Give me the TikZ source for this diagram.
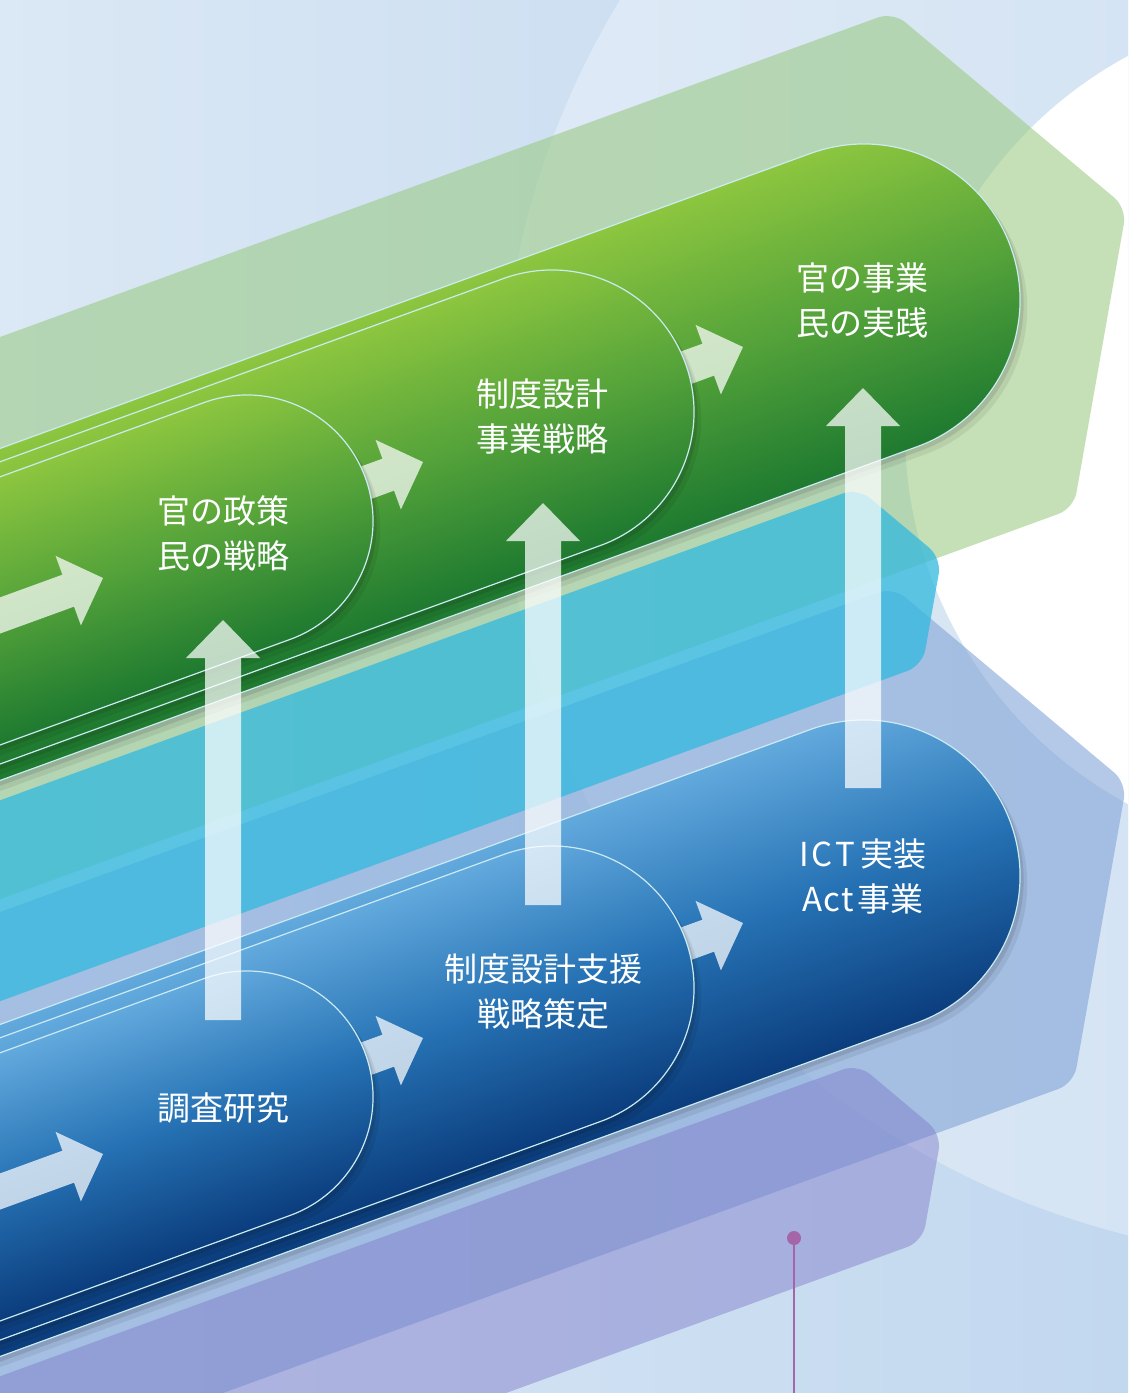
\documentclass[tikz,border=0pt]{standalone}
\usepackage{fontspec}
\newfontfamily\cjk{Noto Sans CJK JP}
\definecolor{bgL}{HTML}{DBE8F5}
\definecolor{bgR}{HTML}{C2D8EF}
\definecolor{pgtop}{HTML}{8DC63F}
\definecolor{pgmid}{HTML}{55A33A}
\definecolor{pgbot}{HTML}{1E7A30}
\definecolor{pbtop}{HTML}{62A9DD}
\definecolor{pbmid}{HTML}{2672B4}
\definecolor{pbbot}{HTML}{0B3D7D}
\definecolor{bandgreen}{RGB}{150,200,125}
\definecolor{bandcyan}{RGB}{50,185,222}
\definecolor{bandlav}{RGB}{130,165,215}
\definecolor{bandpur}{RGB}{125,120,200}
\definecolor{pinc}{HTML}{A466A9}
\definecolor{pilledge}{HTML}{CBEAF2}
\tikzset{
  txt/.style={text=white, font=\cjk\fontsize{33}{45}\selectfont, align=center, inner sep=0pt},
  harr/.style={fill=white, fill opacity=0.72},
  varr/.style={fill=white, fill opacity=0.72},
  pedge/.style={draw=pilledge, line width=1.2pt},
}
\newcommand\capsule[3]{(#1-1800,#2+#3) -- (#1,#2+#3) arc[start angle=90,end angle=-90,radius=#3] -- (#1-1800,#2-#3) -- cycle}
\newcommand\pill[6]{%
\begin{scope}[transform canvas={rotate around={20:(#1,#2)}}]
\fill[black,opacity=0.07,xshift=4pt,yshift=-10pt] \capsule{#1}{#2}{#3};
\fill[black,opacity=0.10,xshift=2pt,yshift=-5pt] \capsule{#1}{#2}{#3};
\shade[top color=#4,bottom color=#6,middle color=#5] \capsule{#1}{#2}{#3};
\draw[pedge] \capsule{#1}{#2}{#3};
\end{scope}}
\newcommand\harrow[3]{%
\begin{scope}[shift={(#1,#2)},rotate=20]
\fill[harr] (0,0) -- (-37,37) -- (-37,17) -- (-#3,17) -- (-#3,-17) -- (-37,-17) -- (-37,-37) -- cycle;
\end{scope}}
\newcommand\varrow[3]{%
\fill[varr] (#1,#2) -- (#1+37,#2-38) -- (#1+18,#2-38) -- (#1+18,#3) -- (#1-18,#3) -- (#1-18,#2-38) -- (#1-37,#2-38) -- cycle;}
\newcommand\band[5]{%
\begin{scope}[shift={(#1,#2)},rotate=20]
\fill[#4, opacity=#5, rounded corners=16pt] (-2200,0) -- (0,0) -- (0.5*#3,-0.866*#3) -- (0,-1.732*#3) -- (-2200,-1.732*#3) -- cycle;
\end{scope}}
\begin{document}
\begin{tikzpicture}[x=1pt,y=1pt]
\useasboundingbox (0,0) rectangle (1128,-1393);
\clip (0,0) rectangle (1128,-1393);
% background
\shade[left color=bgL, right color=bgR] (0,0) rectangle (1128,-1393);
\fill[white, opacity=0.32] (1330,-430) circle[radius=830];
\fill[white] (1330,-430) circle[radius=425];
% bands
\band{893}{-12}{305}{bandgreen}{0.55}
\band{893}{-587}{305}{bandlav}{0.6}
\band{858}{-488}{109}{bandcyan}{0.75}
\band{858}{-1064}{109}{bandpur}{0.45}
% green row
\pill{864}{-300}{156}{pgtop}{pgmid}{pgbot}
\harrow{743}{-347}{120}
\pill{552}{-412}{142}{pgtop}{pgmid}{pgbot}
\harrow{423}{-462}{120}
\pill{247}{-521}{126}{pgtop}{pgmid}{pgbot}
\harrow{103}{-578}{320}
% blue row
\pill{864}{-876}{156}{pbtop}{pbmid}{pbbot}
\harrow{743}{-923}{120}
\pill{552}{-988}{142}{pbtop}{pbmid}{pbbot}
\harrow{423}{-1038}{120}
\pill{247}{-1097}{126}{pbtop}{pbmid}{pbbot}
\harrow{103}{-1154}{320}
% texts
\node[txt] (g1) at (223,-533) {官の政策\\民の戦略};
\node[txt] (g2) at (542,-417) {制度設計\\事業戦略};
\node[txt] (g3) at (862,-300) {官の事業\\民の実践};
\node[txt] (b1) at (223,-1108) {調査研究};
\node[txt] (b2) at (543,-992) {制度設計支援\\戦略策定};
\node[txt] (b3) at (863,-876) {I\kern3pt C\kern3pt T\kern5pt 実装\\A\kern1pt c\kern1pt t\kern4pt 事業};
% vertical arrows
\varrow{223}{-620}{-1020}
\varrow{543}{-503}{-905}
\varrow{863}{-388}{-788}
% pin
\coordinate (pintop) at (794,-1238);
\coordinate (pinbot) at (794,-1393);
\draw[pinc, line width=2pt] (pintop) -- (pinbot);
\fill[pinc] (pintop) circle[radius=7];
\end{tikzpicture}
\end{document}
